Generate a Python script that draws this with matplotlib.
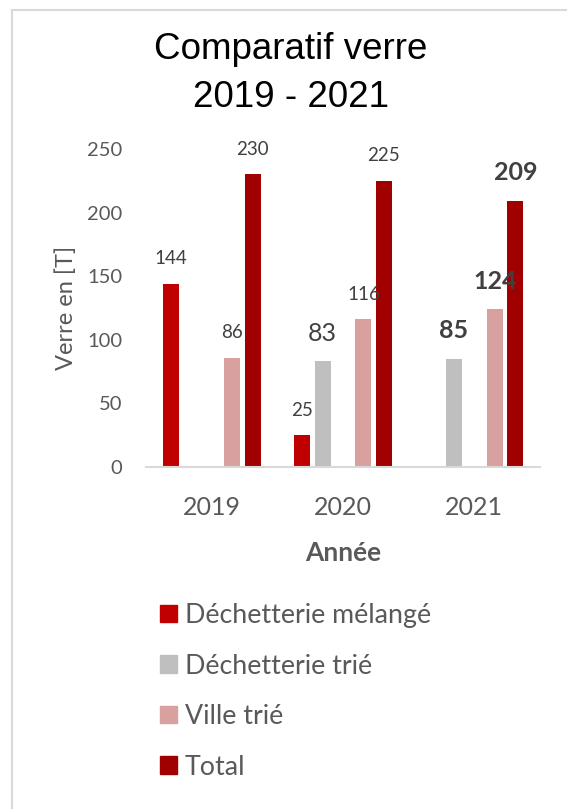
import matplotlib
matplotlib.use("Agg")
import matplotlib.pyplot as plt
import numpy as np
from matplotlib.patches import Patch
from matplotlib.lines import Line2D

# data
years = ["2019", "2020", "2021"]
dech_melange = [144, 25, None]
dech_trie = [None, 83, 85]
dech_trie_2019 = [1, None, None]   # tiny grey bar sits one slot to the right in 2019
ville_trie = [86, 116, 124]
total = [230, 225, 209]
yticks = [0, 50, 100, 150, 200, 250]

# label styles (big/bold labels are the ones the author enlarged)
big_labels = {("dech_trie", 1), ("dech_trie", 2), ("ville_trie", 2), ("total", 2)}
bold_labels = {("dech_trie", 2), ("ville_trie", 2), ("total", 2)}

c_red = "#C00000"
c_grey = "#BFBFBF"
c_pink = "#D9A0A0"
c_dark = "#A00000"
txt = "#595959"
lab = "#404040"

plt.rcParams['font.family'] = ['Lato', 'DejaVu Sans']

fig = plt.figure(figsize=(5.67, 8.09), dpi=100)
ax = fig.add_axes([146/567, 1-467/809, 394/567, 318/809])

x = np.arange(len(years))
step = 0.156
width = 0.122

series = [
    ("dech_melange", dech_melange, -2, c_red),
    ("dech_trie", dech_trie, -1, c_grey),
    ("dech_trie_2019", dech_trie_2019, 0, c_grey),
    ("ville_trie", ville_trie, 1, c_pink),
    ("total", total, 2, c_dark),
]

for name, vals, slot, col in series:
    for i, v in enumerate(vals):
        if v is None:
            continue
        xp = x[i] + slot * step
        ax.bar(xp, v, width=width, color=col, edgecolor="none")
        if name == "dech_trie_2019":
            continue
        big = (name, i) in big_labels
        bold = (name, i) in bold_labels
        ax.annotate(str(v), (xp, v), xytext=(0, 12), textcoords="offset points",
                    ha="center", va="bottom", color=lab,
                    fontsize=18 if big else 13.5,
                    fontweight="bold" if bold else "normal")

ax.set_xlim(-0.5, 2.5)
ax.set_ylim(0, 250)
ax.set_yticks(yticks)
ax.set_xticks(x)
ax.set_xticklabels(years)
ax.tick_params(axis="y", length=0, labelsize=14.5, colors=txt, pad=17)
ax.tick_params(axis="x", length=0, labelsize=18, colors=txt, pad=21)
for s in ["top", "right", "left"]:
    ax.spines[s].set_visible(False)
ax.spines["bottom"].set_color("#D9D9D9")
ax.spines["bottom"].set_linewidth(1.5)

ax.set_ylabel("Verre en [T]", fontsize=17, color=txt)
ax.yaxis.set_label_coords(-0.175, 0.5)
ax.set_xlabel("Année", fontsize=19, color=txt, fontweight="bold", labelpad=16)

# title, two lines
title_lines = ["Comparatif verre", "2019 - 2021"]
for line, base in zip(title_lines, [59, 107]):
    fig.text(291/567, 1-base/809, line, ha="center", va="baseline",
             fontsize=26.5, family="Liberation Sans", color="black")

handles = [Patch(color=c_red), Patch(color=c_grey), Patch(color=c_pink), Patch(color=c_dark)]
names = ["Déchetterie mélangé", "Déchetterie trié", "Ville trié", "Total"]
leg = fig.legend(handles, names, loc="upper left", bbox_to_anchor=(136/567, 1-579/809),
                 frameon=False, fontsize=19.3, handlelength=0.62, handleheight=0.62,
                 handletextpad=0.3, labelspacing=0.95)
for t in leg.get_texts():
    t.set_color(txt)

# outer chart border (left and top edges visible)
fig.add_artist(Line2D([12/567, 12/567], [0, 1-10/809], color="#D9D9D9", lw=1.5))
fig.add_artist(Line2D([12/567, 1], [1-10/809, 1-10/809], color="#D9D9D9", lw=1.5))

fig.savefig("out.png", dpi=100, facecolor="white")
